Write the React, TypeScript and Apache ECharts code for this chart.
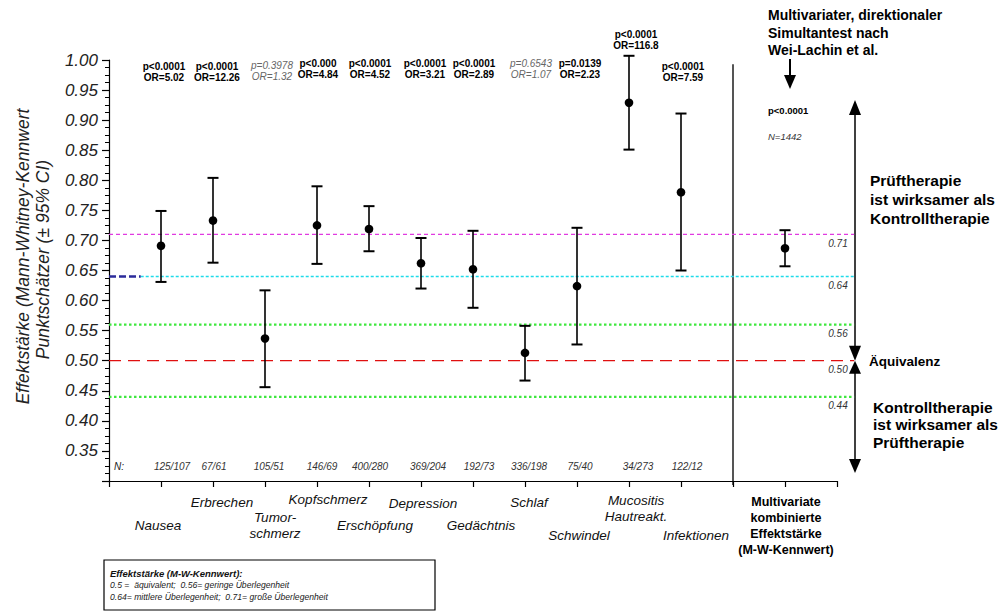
import React, { useEffect, useRef } from "react";
import * as echarts from "echarts";

// ---- data -------------------------------------------------------------
const categories = [
  "Nausea",
  "Erbrechen",
  "Tumor-\nschmerz",
  "Kopfschmerz",
  "Erschöpfung",
  "Depression",
  "Gedächtnis",
  "Schlaf",
  "Schwindel",
  "Mucositis\nHautreakt.",
  "Infektionen",
];
const positions = [1, 2, 3, 4, 5, 6, 7, 8, 9, 10, 11];
const estimates = [0.691, 0.733, 0.537, 0.725, 0.719, 0.662, 0.652, 0.513, 0.624, 0.929, 0.78];
const lowerCI = [0.631, 0.663, 0.456, 0.661, 0.682, 0.62, 0.588, 0.467, 0.527, 0.851, 0.65];
const upperCI = [0.749, 0.804, 0.617, 0.79, 0.757, 0.704, 0.716, 0.558, 0.721, 1.007, 0.911];
const pValues = [
  "p<0.0001", "p<0.0001", "p=0.3978", "p<0.000", "p<0.0001", "p<0.0001",
  "p<0.0001", "p=0.6543", "p=0.0139", "p<0.0001", "p<0.0001",
];
const oddsRatios = [
  "OR=5.02", "OR=12.26", "OR=1.32", "OR=4.84", "OR=4.52", "OR=3.21",
  "OR=2.89", "OR=1.07", "OR=2.23", "OR=116.8", "OR=7.59",
];
const significant = [true, true, false, true, true, true, true, false, true, true, true];
const sampleSizes = [
  "125/107", "67/61", "105/51", "146/69", "400/280", "369/204",
  "192/73", "336/198", "75/40", "34/273", "122/12",
];

// combined multivariate effect size
const combinedLabel = "Multivariate\nkombinierte\nEffektstärke\n(M-W-Kennwert)";
const combinedPosition = 13;
const combinedEstimate = 0.687;
const combinedLower = 0.657;
const combinedUpper = 0.717;
const combinedP = "p<0.0001";
const combinedN = "N=1442";

// benchmark values of the Mann-Whitney effect size
const thresholds = [0.71, 0.64, 0.56, 0.5, 0.44];
const thresholdLabels = ["0.71", "0.64", "0.56", "0.50", "0.44"];

// ---- layout / style -------------------------------------------------------
const FONT = '"Liberation Sans", Arial, Helvetica, sans-serif';
const dividerPosition = 12;
const lineEnd = 14.33;

const thresholdStyles = [
  { stroke: "#e03be0", dash: [4, 3], width: 1.2, start: 0 },
  { stroke: "#1fdcea", dash: [3, 2], width: 1.6, start: 0.61 },
  { stroke: "#3ee83e", dash: [2.5, 2.5], width: 2.2, start: 0 },
  { stroke: "#e01010", dash: [12, 7], width: 1.3, start: 0 },
  { stroke: "#3ee83e", dash: [2.5, 2.5], width: 2.2, start: 0 },
];

// per-category text placement (dx from tick, y in px)
const annotationDx = [3, 4, 7, 1, 1, 4, 1, 6, 3, 7, 2];
const annotationY = [66, 66, 65, 63, 63, 63, 63, 63, 63, 34, 66];
const sampleDx = [11, 1, 4, 5, 1, 7, 6, 4, 3, 9, 6];
const labelDx = [-3, 9, 10, 11, 6, 2, 8, 4, 2, 7, 15];
const labelY = [525, 502, 517, 499, 525, 503, 525, 502, 535, 500, 535];

const errorData = [
  ...positions.map((x, i) => [x, estimates[i], lowerCI[i], upperCI[i]]),
  [combinedPosition, combinedEstimate, combinedLower, combinedUpper],
];

function renderErrorBar(_params: any, api: any) {
  const x = api.value(0);
  const pEst = api.coord([x, api.value(1)]);
  const pLo = api.coord([x, api.value(2)]);
  const pHi = api.coord([x, api.value(3)]);
  const cap = 5.5;
  return {
    type: "group",
    children: [
      { type: "line", shape: { x1: pLo[0], y1: pLo[1], x2: pHi[0], y2: pHi[1] }, style: { stroke: "#000", lineWidth: 1.6 } },
      { type: "line", shape: { x1: pHi[0] - cap, y1: pHi[1], x2: pHi[0] + cap, y2: pHi[1] }, style: { stroke: "#000", lineWidth: 2 } },
      { type: "line", shape: { x1: pLo[0] - cap, y1: pLo[1], x2: pLo[0] + cap, y2: pLo[1] }, style: { stroke: "#000", lineWidth: 2 } },
      { type: "circle", shape: { cx: pEst[0], cy: pEst[1], r: 4.3 }, style: { fill: "#000" } },
    ],
  };
}

function renderThreshold(params: any, api: any) {
  const v = api.value(1);
  const s = thresholdStyles[params.dataIndex];
  const a = api.coord([s.start, v]);
  const b = api.coord([lineEnd, v]);
  const children: any[] = [
    {
      type: "line",
      shape: { x1: a[0], y1: a[1], x2: b[0], y2: b[1] },
      style: { stroke: s.stroke, lineWidth: s.width, lineDash: s.dash },
    },
  ];
  if (s.start > 0) {
    const z = api.coord([0, v]);
    children.push({
      type: "line",
      shape: { x1: z[0], y1: z[1], x2: a[0], y2: a[1] },
      style: { stroke: "#2b2b9a", lineWidth: 2.5, lineDash: [7, 3] },
    });
  }
  const t = api.coord([14, v]);
  children.push({
    type: "text",
    x: t[0] + 1,
    y: t[1] + 9,
    style: {
      text: thresholdLabels[params.dataIndex],
      font: `italic 10px ${FONT}`,
      fill: "#333",
      align: "center",
      verticalAlign: "middle",
    },
  });
  return { type: "group", children };
}

function txt(text: string, x: number, y: number, font: string, fill = "#000", align = "center", rotation = 0) {
  return {
    type: "text",
    x,
    y,
    rotation,
    silent: true,
    style: { text, x: 0, y: 0, font, fill, textAlign: align, textVerticalAlign: "middle" },
  };
}

function tri(points: number[][]) {
  return { type: "polygon", silent: true, shape: { points }, style: { fill: "#000" } };
}

function seg(x1: number, y1: number, x2: number, y2: number, stroke = "#000", lineWidth = 1.5) {
  return { type: "line", silent: true, shape: { x1, y1, x2, y2 }, style: { stroke, lineWidth } };
}

function buildGraphics(chart: echarts.ECharts) {
  const px = (x: number, y: number) => chart.convertToPixel({ gridIndex: 0 }, [x, y]) as number[];
  const g: any[] = [];
  const bold10 = `bold 10px ${FONT}`;
  const ital10 = `italic 10px ${FONT}`;

  // y-axis title
  const mid = (px(0, 1)[1] + px(0, 0.3)[1]) / 2 - 14;
  g.push(txt("Effektstärke (Mann-Whitney-Kennwert", 23, mid, `italic 17.5px ${FONT}`, "#222", "center", Math.PI / 2));
  g.push(txt("Punktschätzer (± 95% CI)", 43, mid + 3, `italic 17.5px ${FONT}`, "#222", "center", Math.PI / 2));

  // divider between single endpoints and combined effect
  const dTop = px(dividerPosition, 0.993);
  const dBot = px(dividerPosition, 0.3);
  g.push(seg(dTop[0], dTop[1], dBot[0], dBot[1] + 4, "#555", 2));

  // per-endpoint annotations
  g.push(txt("N:", 119, 466, ital10, "#222"));
  positions.forEach((x, i) => {
    const cx = px(x, 0.5)[0];
    const pFont = significant[i] ? bold10 : ital10;
    const pFill = significant[i] ? "#000" : "#666";
    g.push(txt(pValues[i], cx + annotationDx[i], annotationY[i], pFont, pFill));
    g.push(txt(oddsRatios[i], cx + annotationDx[i], annotationY[i] + 11, pFont, pFill));
    g.push(txt(sampleSizes[i], cx + sampleDx[i], 466, ital10, "#333"));
    categories[i].split("\n").forEach((line, k) => {
      g.push(txt(line, cx + labelDx[i], labelY[i] + k * 16, `italic 13.5px ${FONT}`, "#111"));
    });
  });

  // combined effect annotations
  const mx = px(combinedPosition, 0.5)[0];
  combinedLabel.split("\n").forEach((line, k) => {
    g.push(txt(line, mx + 1, 502 + k * 16, `bold 12.5px ${FONT}`, "#000"));
  });
  g.push(txt(combinedP, 768, 110, `bold 9.5px ${FONT}`, "#000", "left"));
  g.push(txt(combinedN, 768, 136, `italic 9.5px ${FONT}`, "#333", "left"));

  // header and arrow for the simultaneous test
  ["Multivariater, direktionaler", "Simultantest nach", "Wei-Lachin et al."].forEach((line, k) => {
    g.push(txt(line, 768, 15 + k * 17.5, `bold 14px ${FONT}`, "#000", "left"));
  });
  g.push(seg(790, 59, 790, 77, "#000", 2));
  g.push(tri([[784, 75], [796, 75], [790, 89]]));

  // direction arrows at the right edge
  const xr = px(14, 0.5)[0] + 18;
  const yTop = px(0, 1)[1] + 40;
  const yEq = px(0, 0.5)[1];
  const yBot = px(0, 0.3)[1] - 8;
  g.push(seg(xr, yTop + 10, xr, yEq - 14));
  g.push(tri([[xr, yTop], [xr - 6, yTop + 15], [xr + 6, yTop + 15]]));
  g.push(tri([[xr - 6, yEq - 15], [xr + 6, yEq - 15], [xr, yEq]]));
  g.push(tri([[xr, yEq], [xr - 6, yEq + 13], [xr + 6, yEq + 13]]));
  g.push(seg(xr, yEq + 12, xr, yBot - 12));
  g.push(tri([[xr - 6, yBot - 14], [xr + 6, yBot - 14], [xr, yBot]]));

  const bigBold = `bold 15.5px ${FONT}`;
  ["Prüftherapie", "ist wirksamer als", "Kontrolltherapie"].forEach((line, k) => {
    g.push(txt(line, 870, 180 + k * 19, bigBold, "#000", "left"));
  });
  g.push(txt("Äquivalenz", 869, yEq + 1, `bold 13.5px ${FONT}`, "#000", "left"));
  ["Kontrolltherapie", "ist wirksamer als", "Prüftherapie"].forEach((line, k) => {
    g.push(txt(line, 873, 407 + k * 17.5, bigBold, "#000", "left"));
  });

  // explanation box
  g.push({
    type: "rect",
    silent: true,
    shape: { x: 104, y: 560, width: 331, height: 50 },
    style: { fill: "#fff", stroke: "#000", lineWidth: 1.2 },
  });
  g.push(txt("Effektstärke (M-W-Kennwert):", 110, 573, `italic bold 9.5px ${FONT}`, "#111", "left"));
  g.push(txt("0.5 =  äquivalent;  0.56= geringe Überlegenheit", 110, 585, `italic 8.6px ${FONT}`, "#222", "left"));
  g.push(txt("0.64= mittlere Überlegenheit;  0.71= große Überlegenheit", 110, 597, `italic 8.6px ${FONT}`, "#222", "left"));

  return g;
}

export default function App() {
  const ref = useRef<HTMLDivElement>(null);

  useEffect(() => {
    if (!ref.current) return;
    const chart = echarts.init(ref.current, undefined, { renderer: "svg" });
    chart.setOption({
      animation: false,
      backgroundColor: "#fff",
      grid: { left: 109, right: 170, top: 60, bottom: 131, containLabel: false },
      xAxis: {
        type: "value",
        min: 0,
        max: 14,
        interval: 1,
        axisLine: { show: true, onZero: false, lineStyle: { color: "#000", width: 1.2 } },
        axisTick: { show: true, length: 6, lineStyle: { color: "#000", width: 1.2 } },
        axisLabel: { show: false },
        splitLine: { show: false },
      },
      yAxis: {
        type: "value",
        min: 0.3,
        max: 1.0,
        interval: 0.05,
        axisLine: { show: true, lineStyle: { color: "#000", width: 1.2 } },
        axisTick: { show: true, length: 7, lineStyle: { color: "#000", width: 1.2 } },
        minorTick: { show: true, splitNumber: 4, length: 4, lineStyle: { color: "#000", width: 1 } },
        splitLine: { show: false },
        axisLabel: {
          margin: 11,
          color: "#222",
          fontSize: 17,
          fontStyle: "italic",
          fontFamily: FONT,
          formatter: (v: number) => (v < 0.34 ? "" : v.toFixed(2)),
        },
      },
      series: [
        {
          type: "custom",
          name: "Schwellenwerte",
          coordinateSystem: "cartesian2d",
          clip: false,
          silent: true,
          z: 1,
          renderItem: renderThreshold,
          encode: { x: 0, y: 1 },
          data: thresholds.map((v) => [0, v]),
        },
        {
          type: "custom",
          name: "Effektstärke",
          coordinateSystem: "cartesian2d",
          clip: false,
          silent: true,
          z: 3,
          renderItem: renderErrorBar,
          encode: { x: 0, y: [1, 2, 3] },
          data: errorData,
        },
      ],
    });
    chart.setOption({ graphic: buildGraphics(chart) });
    return () => chart.dispose();
  }, []);

  return (
    <div
      ref={ref}
      style={{ position: "fixed", left: 0, top: 0, width: 1007, height: 612, background: "#fff" }}
    />
  );
}
